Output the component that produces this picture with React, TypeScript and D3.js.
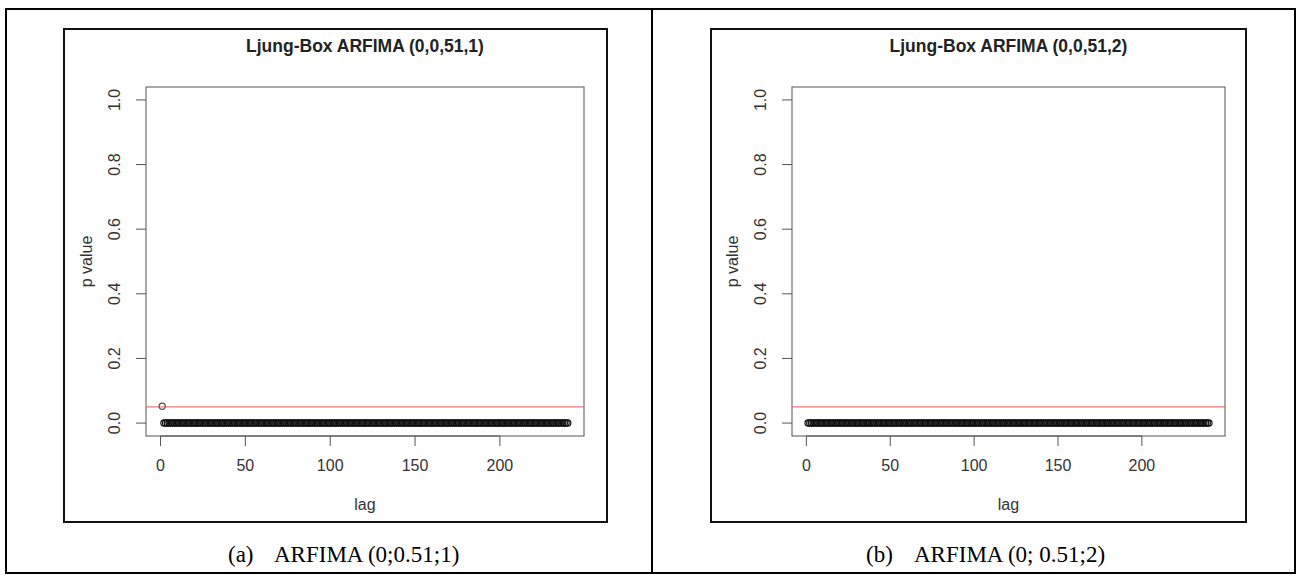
import React from "react";
import * as d3 from "d3";

// ---- data ----
const titles = ["Ljung-Box ARFIMA (0,0,51,1)", "Ljung-Box ARFIMA (0,0,51,2)"];
const captionTags = ["(a)", "(b)"];
const captionTexts = ["ARFIMA (0;0.51;1)", "ARFIMA (0; 0.51;2)"];
const lags = [
  1,2,3,4,5,6,7,8,9,10,11,12,13,14,15,16,17,18,19,20,21,22,23,24,25,26,27,28,29,30,
  31,32,33,34,35,36,37,38,39,40,41,42,43,44,45,46,47,48,49,50,51,52,53,54,55,56,57,58,59,60,
  61,62,63,64,65,66,67,68,69,70,71,72,73,74,75,76,77,78,79,80,81,82,83,84,85,86,87,88,89,90,
  91,92,93,94,95,96,97,98,99,100,101,102,103,104,105,106,107,108,109,110,111,112,113,114,115,116,117,118,119,120,
  121,122,123,124,125,126,127,128,129,130,131,132,133,134,135,136,137,138,139,140,141,142,143,144,145,146,147,148,149,150,
  151,152,153,154,155,156,157,158,159,160,161,162,163,164,165,166,167,168,169,170,171,172,173,174,175,176,177,178,179,180,
  181,182,183,184,185,186,187,188,189,190,191,192,193,194,195,196,197,198,199,200,201,202,203,204,205,206,207,208,209,210,
  211,212,213,214,215,216,217,218,219,220,221,222,223,224,225,226,227,228,229,230,231,232,233,234,235,236,237,238,239,240,
];
const pValuesA = [
  0.052,0,0,0,0,0,0,0,0,0,0,0,0,0,0,0,0,0,0,0,0,0,0,0,0,0,0,0,0,0,
  0,0,0,0,0,0,0,0,0,0,0,0,0,0,0,0,0,0,0,0,0,0,0,0,0,0,0,0,0,0,
  0,0,0,0,0,0,0,0,0,0,0,0,0,0,0,0,0,0,0,0,0,0,0,0,0,0,0,0,0,0,
  0,0,0,0,0,0,0,0,0,0,0,0,0,0,0,0,0,0,0,0,0,0,0,0,0,0,0,0,0,0,
  0,0,0,0,0,0,0,0,0,0,0,0,0,0,0,0,0,0,0,0,0,0,0,0,0,0,0,0,0,0,
  0,0,0,0,0,0,0,0,0,0,0,0,0,0,0,0,0,0,0,0,0,0,0,0,0,0,0,0,0,0,
  0,0,0,0,0,0,0,0,0,0,0,0,0,0,0,0,0,0,0,0,0,0,0,0,0,0,0,0,0,0,
  0,0,0,0,0,0,0,0,0,0,0,0,0,0,0,0,0,0,0,0,0,0,0,0,0,0,0,0,0,0,
];
const pValuesB = [
  0,0,0,0,0,0,0,0,0,0,0,0,0,0,0,0,0,0,0,0,0,0,0,0,0,0,0,0,0,0,
  0,0,0,0,0,0,0,0,0,0,0,0,0,0,0,0,0,0,0,0,0,0,0,0,0,0,0,0,0,0,
  0,0,0,0,0,0,0,0,0,0,0,0,0,0,0,0,0,0,0,0,0,0,0,0,0,0,0,0,0,0,
  0,0,0,0,0,0,0,0,0,0,0,0,0,0,0,0,0,0,0,0,0,0,0,0,0,0,0,0,0,0,
  0,0,0,0,0,0,0,0,0,0,0,0,0,0,0,0,0,0,0,0,0,0,0,0,0,0,0,0,0,0,
  0,0,0,0,0,0,0,0,0,0,0,0,0,0,0,0,0,0,0,0,0,0,0,0,0,0,0,0,0,0,
  0,0,0,0,0,0,0,0,0,0,0,0,0,0,0,0,0,0,0,0,0,0,0,0,0,0,0,0,0,0,
  0,0,0,0,0,0,0,0,0,0,0,0,0,0,0,0,0,0,0,0,0,0,0,0,0,0,0,0,0,0,
];
const series = [pValuesA, pValuesB];
const xTicks = [0, 50, 100, 150, 200];
const yTicks = [0, 0.2, 0.4, 0.6, 0.8, 1.0];
const threshold = 0.05;
const xDomain = [-8.56, 249.56];
const yDomain = [-0.04, 1.04];

// ---- layout ----
const panels = [
  { box: [64, 29, 607, 522], plot: [146, 87, 584, 436], capX: 228, capTextX: 274 },
  { box: [711, 29, 1246, 522], plot: [792, 87, 1225, 436], capX: 866, capTextX: 914 },
];

const SANS = "'Liberation Sans', Arial, sans-serif";
const SERIF = "'Liberation Serif', 'Times New Roman', serif";

function Panel({ idx }: { idx: number }) {
  const p = panels[idx];
  const [l, t, r, b] = p.plot;
  const x = d3.scaleLinear().domain(xDomain).range([l, r]);
  const y = d3.scaleLinear().domain(yDomain).range([b, t]);
  const values = series[idx];
  const cx = (l + r) / 2;
  const cy = (t + b) / 2;
  return (
    <g>
      <rect x={p.box[0]} y={p.box[1]} width={p.box[2] - p.box[0]} height={p.box[3] - p.box[1]}
        fill="white" stroke="#111" strokeWidth={2} />
      <text x={cx} y={47} textAnchor="middle" dominantBaseline="middle" fontFamily={SANS}
        fontWeight="bold" fontSize={17.5} fill="#222">{titles[idx]}</text>
      <rect x={l} y={t} width={r - l} height={b - t} fill="none" stroke="#555" strokeWidth={1} />
      {/* x axis */}
      <line x1={x(xTicks[0])} x2={x(xTicks[xTicks.length - 1])} y1={b} y2={b} stroke="#555" />
      {xTicks.map((v) => (
        <g key={"xt" + v}>
          <line x1={x(v)} x2={x(v)} y1={b} y2={b + 10} stroke="#555" />
          <text x={x(v)} y={467} textAnchor="middle" dominantBaseline="middle" fontFamily={SANS}
            fontSize={16} fill="#333">{v}</text>
        </g>
      ))}
      {/* y axis */}
      {yTicks.map((v) => (
        <g key={"yt" + v}>
          <line x1={l - 10} x2={l} y1={y(v)} y2={y(v)} stroke="#555" />
          <text transform={`translate(${l - 30},${y(v)}) rotate(-90)`} textAnchor="middle"
            dominantBaseline="middle" fontFamily={SANS} fontSize={16} fill="#333">{v.toFixed(1)}</text>
        </g>
      ))}
      <text x={cx} y={506} textAnchor="middle" dominantBaseline="middle" fontFamily={SANS}
        fontSize={16} fill="#333">lag</text>
      <text transform={`translate(${l - 58},${cy}) rotate(-90)`} textAnchor="middle"
        dominantBaseline="middle" fontFamily={SANS} fontSize={16} fill="#333">p value</text>
      {/* threshold */}
      <line x1={l} x2={r} y1={y(threshold)} y2={y(threshold)} stroke="#ee5a5a" strokeWidth={1} />
      {/* points */}
      {values.map((v, i) => (
        <circle key={i} cx={x(lags[i])} cy={y(v)} r={3.1} fill="none"
          stroke={i === 0 && v > 0 ? "#555" : "#111"} strokeWidth={1.2} />
      ))}
      {/* caption */}
      <text x={p.capX} y={562} fontFamily={SERIF} fontSize={23} fill="#000">{captionTags[idx]}</text>
      <text x={p.capTextX} y={562} fontFamily={SERIF} fontSize={23} fill="#000">{captionTexts[idx]}</text>
    </g>
  );
}

export default function App() {
  return (
    <svg width={1300} height={581} style={{ position: "absolute", left: 0, top: 0, background: "white" }}>
      <rect x={0} y={0} width={1300} height={581} fill="white" />
      <rect x={6} y={9} width={1289} height={564} fill="none" stroke="#000" strokeWidth={2} />
      <line x1={652} x2={652} y1={9} y2={573} stroke="#000" strokeWidth={2} />
      <Panel idx={0} />
      <Panel idx={1} />
    </svg>
  );
}
